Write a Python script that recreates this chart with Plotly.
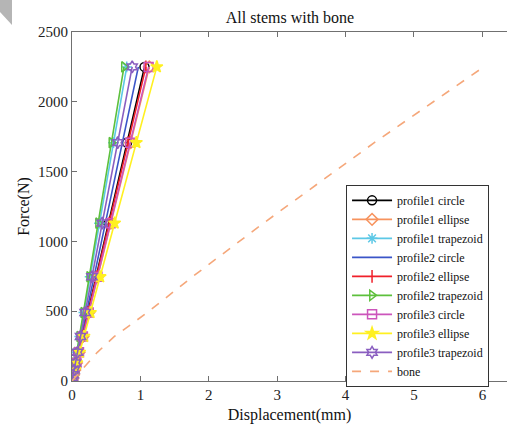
import plotly.graph_objects as go

# Force levels (N) shared by all series
force = [0, 22.5, 45, 78.75, 129.4, 205.3, 319.2, 490.1, 746.3, 1130.8, 1707.5, 2250]

# Displacements (mm)
p1_circle    = [0, 0.011, 0.021, 0.037, 0.061, 0.097, 0.150, 0.231, 0.352, 0.533, 0.804, 1.06]
p1_ellipse   = [0, 0.011, 0.023, 0.040, 0.065, 0.103, 0.160, 0.246, 0.375, 0.568, 0.858, 1.13]
p1_trapezoid = [0, 0.008, 0.016, 0.028, 0.046, 0.073, 0.114, 0.174, 0.265, 0.402, 0.607, 0.80]
p2_circle    = [0, 0.010, 0.019, 0.034, 0.056, 0.089, 0.138, 0.211, 0.322, 0.488, 0.736, 0.97]
p2_ellipse   = [0, 0.011, 0.022, 0.038, 0.062, 0.099, 0.153, 0.235, 0.358, 0.543, 0.820, 1.08]
p2_trapezoid = [0, 0.008, 0.015, 0.027, 0.044, 0.069, 0.108, 0.166, 0.252, 0.382, 0.577, 0.76]
p3_circle    = [0, 0.011, 0.022, 0.039, 0.064, 0.102, 0.159, 0.244, 0.372, 0.563, 0.850, 1.12]
p3_ellipse   = [0, 0.012, 0.025, 0.043, 0.071, 0.113, 0.176, 0.270, 0.411, 0.623, 0.941, 1.24]
p3_trapezoid = [0, 0.009, 0.018, 0.031, 0.051, 0.080, 0.125, 0.192, 0.292, 0.442, 0.668, 0.88]
bone         = [0, 0.04, 0.08, 0.14, 0.23, 0.37, 0.62, 1.10, 1.76, 2.80, 4.42, 6.02]

names = ["profile1 circle", "profile1 ellipse", "profile1 trapezoid",
         "profile2 circle", "profile2 ellipse", "profile2 trapezoid",
         "profile3 circle", "profile3 ellipse", "profile3 trapezoid", "bone"]
series = [p1_circle, p1_ellipse, p1_trapezoid, p2_circle, p2_ellipse, p2_trapezoid,
          p3_circle, p3_ellipse, p3_trapezoid, bone]
colors = ["#000000", "#F7935E", "#5CC8E6", "#3A55C8", "#F0202A", "#5DC03C",
          "#CC55BB", "#FFF020", "#8A5EC0", "#F5A77A"]
symbols = ["circle-open", "diamond-open", "asterisk-open", None, "line-ns-open",
           "triangle-right-open", "square-open", "star", "hexagram-open", None]
dashes = ["solid"] * 9 + ["dash"]

fig = go.Figure()
for nm, xs, c, s, d in zip(names, series, colors, symbols, dashes):
    if s is None:
        mode = "lines"
        marker = None
    else:
        mode = "lines+markers"
        marker = dict(symbol=s, size=9, color=c, line=dict(color=c, width=1.5))
    fig.add_trace(go.Scatter(x=xs, y=force, name=nm, mode=mode,
                             line=dict(color=c, width=1.6, dash=d),
                             marker=marker))

font = "Liberation Serif, Times New Roman, serif"
axcol = "#707070"
fig.update_layout(
    width=507, height=428,
    margin=dict(l=72, r=0, t=32, b=47),
    paper_bgcolor="white", plot_bgcolor="white",
    font=dict(family=font, size=15, color="#222"),
    title=dict(text="All stems with bone", x=(290 / 507), xanchor="center",
               y=1 - 17 / 428, yanchor="middle", font=dict(family=font, size=16, color="#111")),
    showlegend=True,
    legend=dict(x=0.63, y=0.562, xanchor="left", yanchor="top",
                bgcolor="white", bordercolor="#333", borderwidth=1,
                font=dict(family=font, size=12, color="#111"),
                tracegroupgap=0, itemwidth=40),
    xaxis=dict(range=[0, 6.36], tickvals=[0, 1, 2, 3, 4, 5, 6],
               ticks="inside", ticklen=5, tickcolor=axcol,
               showline=True, linecolor=axcol, linewidth=1, mirror="ticks",
               showgrid=False, zeroline=False,
               title=dict(text="Displacement(mm)", standoff=6,
                          font=dict(family=font, size=16, color="#111")),
               tickfont=dict(family=font, size=15, color="#222")),
    yaxis=dict(range=[0, 2500], tickvals=[0, 500, 1000, 1500, 2000, 2500],
               ticks="inside", ticklen=5, tickcolor=axcol,
               showline=True, linecolor=axcol, linewidth=1, mirror=False,
               showgrid=False, zeroline=False,
               title=dict(text="Force(N)", standoff=4,
                          font=dict(family=font, size=16, color="#111")),
               tickfont=dict(family=font, size=15, color="#222")),
)

# page-fold artifact in the top-left corner
fig.add_shape(type="path", xref="paper", yref="paper",
              path="M %f,%f L %f,%f L %f,%f L %f,%f Z" % (
                  (0 - 72) / 435, (381 - 0) / 349,
                  (12 - 72) / 435, (381 - 0) / 349,
                  (12 - 72) / 435, (381 - 25) / 349,
                  (0 - 72) / 435, (381 - 12) / 349),
              fillcolor="#b5b5b5", line=dict(width=0), layer="above")

fig.write_html("out.html", config={"displayModeBar": False},
               post_script="document.body.style.margin='0';document.body.style.overflow='hidden';")
